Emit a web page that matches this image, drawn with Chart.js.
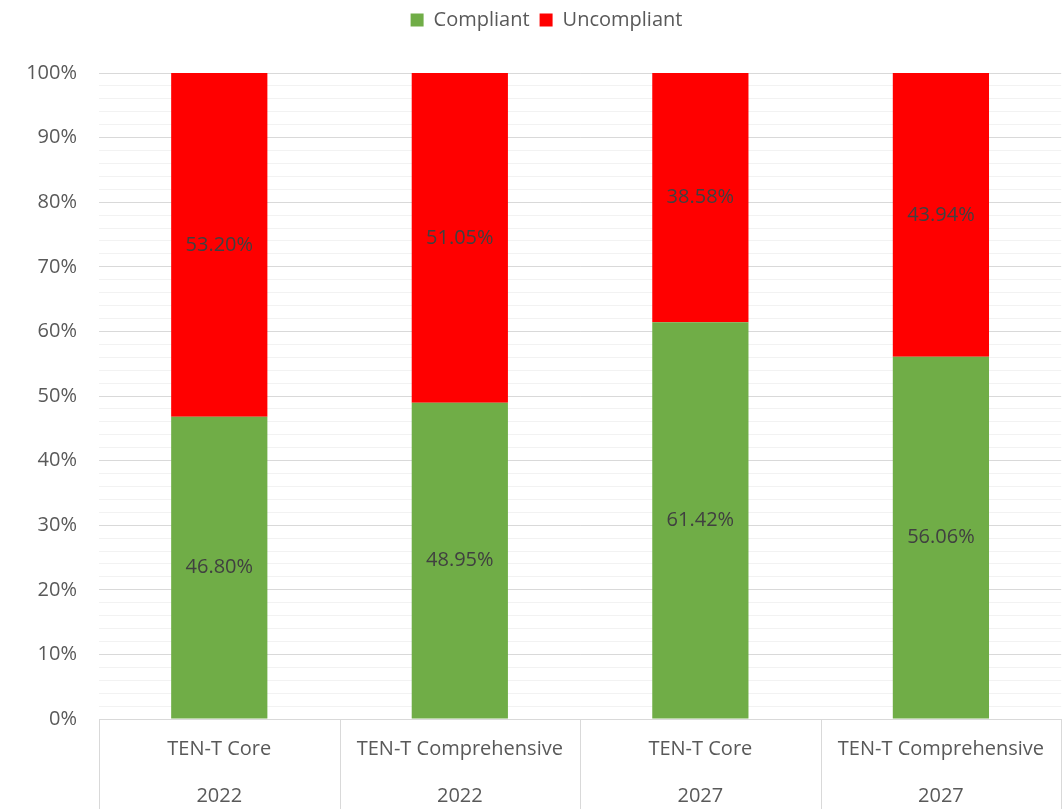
<!DOCTYPE html>
<html><head><meta charset="utf-8">
<script src="https://cdn.jsdelivr.net/npm/chart.js@4"></script>
<style>html,body{margin:0;padding:0;background:#fff;}#wrap{width:1063px;height:809px;}</style>
</head><body><div id="wrap"><canvas id="c" width="1063" height="809"></canvas></div>
<script>
const categories = ["TEN-T Core", "TEN-T Comprehensive", "TEN-T Core", "TEN-T Comprehensive"];
const years = ["2022", "2022", "2027", "2027"];
const compliant = [46.80, 48.95, 61.42, 56.06];
const uncompliant = [53.20, 51.05, 38.58, 43.94];
const FONT = "'Open Sans', sans-serif";
const FS = 20;

const labelPlugin = {
  id: 'segLabels',
  afterDatasetsDraw(chart) {
    const ctx = chart.ctx;
    ctx.save();
    ctx.font = FS + "px " + FONT;
    ctx.fillStyle = '#404040';
    ctx.textAlign = 'center';
    ctx.textBaseline = 'middle';
    chart.data.datasets.forEach((ds, i) => {
      chart.getDatasetMeta(i).data.forEach((el, j) => {
        const p = el.getCenterPoint();
        ctx.fillText(ds.data[j].toFixed(2) + '%', p.x, p.y);
      });
    });
    ctx.restore();
  }
};

const legendMargin = {
  id: 'legendMargin',
  beforeInit(chart) {
    const orig = chart.legend.fit;
    chart.legend.fit = function () { orig.bind(chart.legend)(); this.height += 33; };
  },
  beforeDraw(chart) {
    const lg = chart.legend;
    if (!lg._shifted) { lg.left += 15; lg.right += 15; lg._shifted = true; }
  }
};

const separators = {
  id: 'separators',
  afterDraw(chart) {
    const xs = chart.scales.x;
    const ctx = chart.ctx;
    const n = chart.data.labels.length;
    const w = (xs.getPixelForValue(1) - xs.getPixelForValue(0));
    ctx.save();
    ctx.strokeStyle = '#d9d9d9';
    ctx.lineWidth = 1;
    for (let i = 0; i <= n; i++) {
      let x = Math.round(xs.getPixelForValue(0) - w / 2 + i * w) + 0.5;
      if (x > chart.width) x = chart.width - 0.5;
      ctx.beginPath();
      ctx.moveTo(x, chart.chartArea.bottom);
      ctx.lineTo(x, chart.height);
      ctx.stroke();
    }
    ctx.restore();
  }
};

new Chart(document.getElementById('c'), {
  type: 'bar',
  data: {
    labels: categories.map((c, i) => [c, '', years[i]]),
    datasets: [
      { label: 'Compliant', data: compliant, backgroundColor: '#70ad47', barPercentage: 0.4, categoryPercentage: 1 },
      { label: 'Uncompliant', data: uncompliant, backgroundColor: '#ff0000', barPercentage: 0.4, categoryPercentage: 1 }
    ]
  },
  options: {
    responsive: false,
    animation: false,
    layout: { padding: { left: 0, right: 0, top: 0, bottom: 0 } },
    plugins: {
      legend: {
        position: 'top',
        labels: { boxWidth: 13, boxHeight: 13, color: '#595959', font: { family: FONT, size: FS }, padding: 10 }
      },
      tooltip: { enabled: false }
    },
    scales: {
      x: {
        stacked: true,
        afterFit(scale) { scale.height = 90; },
        grid: { offset: true, drawOnChartArea: false, drawTicks: false },
        border: { display: true, color: '#d9d9d9' },
        ticks: { color: '#595959', font: { family: FONT, size: FS, lineHeight: '23.5px' }, padding: 19, maxRotation: 0, autoSkip: false }
      },
      y: {
        stacked: true,
        min: 0, max: 100,
        afterFit(scale) { scale.width = 99; },
        grid: {
          drawTicks: false,
          color: c => (c.tick && Math.round(c.tick.value) % 10 === 0) ? '#d9d9d9' : '#f2f2f2',
          lineWidth: 1
        },
        border: { display: false },
        ticks: {
          stepSize: 2, autoSkip: false,
          color: '#595959', font: { family: FONT, size: FS }, padding: 22,
          callback: v => (Math.round(v) % 10 === 0) ? v + '%' : ''
        }
      }
    }
  },
  plugins: [labelPlugin, legendMargin, separators]
});
</script>
</body></html>
